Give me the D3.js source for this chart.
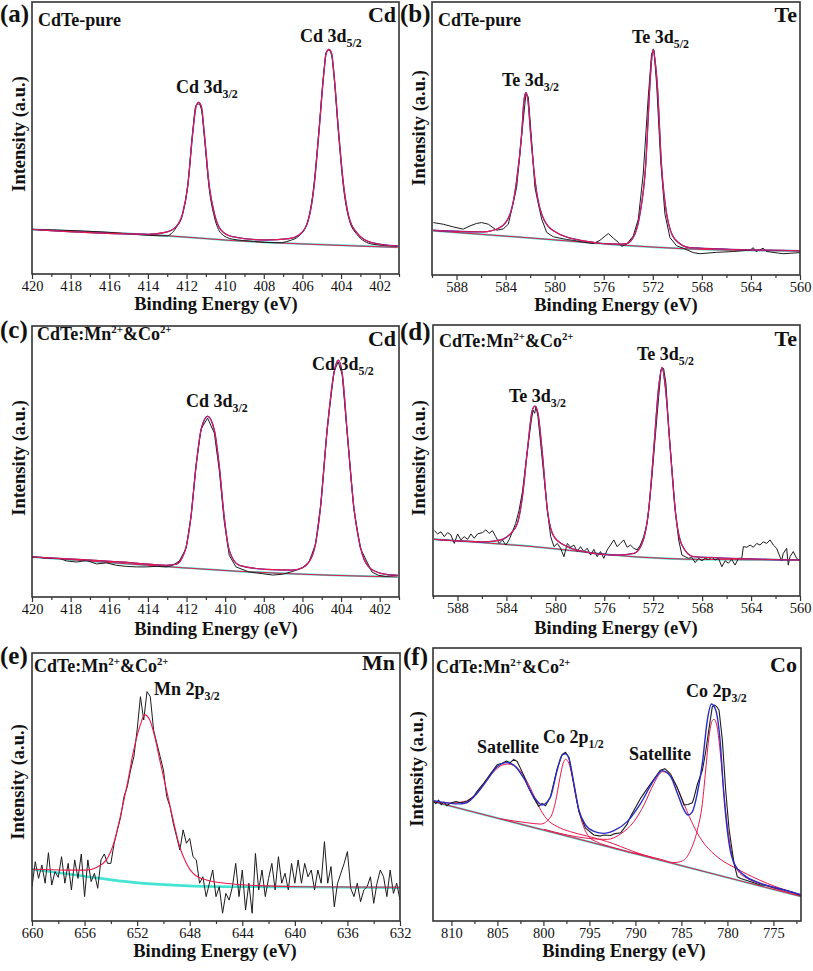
<!DOCTYPE html>
<html><head><meta charset="utf-8">
<script src="https://cdn.jsdelivr.net/npm/d3@7"></script>
<style>
body{margin:0;background:#fff}
svg{display:block}
text{font-family:"Liberation Serif","Times New Roman",Times,serif}
</style>
</head><body>
<svg id="chart" width="813" height="971"></svg>
<script>
// ---------------- tick labels ----------------
const cdTicks = [420,418,416,414,412,410,408,406,404,402];
const cdMinor = [419,417,415,413,411,409,407,405,403,401];
const teTicks = [588,584,580,576,572,568,564,560];
const teMinor = [590,586,582,578,574,570,566,562];
const mnTicks = [660,656,652,648,644,640,636,632];
const mnMinor = [658,654,650,646,642,638,634];
const coTicks = [810,805,800,795,790,785,780,775];
const coMinor = [807.5,802.5,797.5,792.5,787.5,782.5,777.5,772.5];

// ---------------- (a) Cd 3d, CdTe-pure  [binding energy eV, intensity a.u.] ----------------
const aBackground = [[420,16.4],[413.05,14.1],[409.62,12.3],[406.18,11.1],[401.07,9.8]];
const aFit = [[420,16.4],[413.97,14.6],[413.05,15.4],[412.54,17.4],[412.2,22.3],[411.94,32.1],[411.68,51.7],[411.51,61.5],[411.37,63.1],[411.23,61.5],[411.08,51.7],[410.82,32.1],[410.56,22.3],[410.22,16.2],[409.62,13.7],[407.9,12.5],[406.69,13.0],[406.18,14.3],[405.75,18.6],[405.4,32.1],[405.15,51.7],[404.89,73.8],[404.77,81.1],[404.63,82.6],[404.49,81.1],[404.37,73.8],[404.12,51.7],[403.86,32.1],[403.6,21.1],[403.17,15.0],[402.4,11.5],[401.07,10.3]];
const aRaw = [[420,16.4],[416,15.3],[413.97,14.2],[413.05,14.0],[412.54,17.0],[412.2,22.0],[411.94,32.5],[411.68,52.5],[411.51,62.0],[411.37,62.5],[411.23,60.5],[411.08,50.5],[410.82,31.0],[410.56,21.0],[410.22,15.0],[409.62,12.8],[408.5,12.0],[407.9,11.6],[407.2,11.5],[406.69,12.2],[406.18,14.0],[405.75,18.8],[405.4,33.0],[405.15,52.5],[404.89,74.5],[404.77,81.5],[404.63,82.3],[404.49,80.5],[404.37,73.0],[404.12,50.5],[403.86,31.0],[403.6,20.5],[403.17,14.5],[402.4,11.0],[401.07,10.2]];

// ---------------- (b) Te 3d, CdTe-pure ----------------
const bBackground = [[589.9,16.2],[581.74,13.5],[574.95,11.1],[568.16,9.4],[560,8.8]];
const bFit = [[589.9,16.4],[585.82,15.8],[584.46,17.4],[583.64,22.3],[583.1,34.6],[582.69,51.7],[582.5,64.0],[582.34,66.8],[582.18,64.0],[581.96,51.7],[581.6,34.6],[581.06,22.3],[580.1,16.2],[577.67,12.5],[574.95,11.3],[574.13,11.5],[573.46,15.0],[573.05,22.3],[572.59,39.5],[572.23,70.1],[572.1,78.7],[571.96,82.7],[571.82,78.7],[571.64,70.1],[571.28,39.5],[570.87,22.3],[570.2,13.1],[568.97,10.0],[560,8.9]];
const bRaw = [[589.89,19.2],[589.08,18.6],[588.26,17.6],[587.45,16.8],[586.9,18.0],[586.36,18.9],[585.95,19.2],[585.41,18.6],[584.73,16.4],[584.19,16.9],[583.78,18.6],[583.37,26.6],[583.1,32.1],[582.69,51.1],[582.34,66.4],[582.15,65.2],[581.88,49.3],[581.61,32.1],[581.33,26.0],[581.06,20.5],[580.65,15.6],[580.11,14.0],[579.57,13.5],[579.02,13.0],[578.48,12.7],[577.67,12.0],[576.85,11.5],[576.31,12.7],[575.9,14.2],[575.63,15.2],[575.22,13.5],[574.81,12.0],[574.54,10.5],[574.13,11.3],[573.59,14.3],[573.18,20.5],[572.78,37.0],[572.37,65.2],[572.1,81.1],[571.91,82.4],[571.69,70.1],[571.36,41.9],[571.01,22.3],[570.6,13.7],[570.06,10.7],[569.52,9.8],[568.7,8.2],[568.16,7.8],[566.8,8.3],[565.44,8.6],[564.08,9.1],[563.81,10.0],[563.59,8.6],[563.0,9.8],[562.72,8.6],[561.37,7.8],[560.0,8.2]];

// ---------------- (c) Cd 3d, CdTe:Mn2+&Co2+ ----------------
const cBackground = [[420,14.8],[414.77,12.1],[409.62,9.6],[404.46,8.0],[401.07,7.4]];
const cFit = [[420,14.8],[414.77,12.6],[413.05,11.7],[412.54,12.1],[412.28,13.8],[412.02,18.5],[411.77,29.6],[411.51,48.0],[411.25,61.6],[410.91,66.7],[410.56,61.6],[410.3,48.0],[410.05,29.6],[409.79,17.2],[409.27,11.7],[407.9,10.2],[406.52,9.9],[406.0,10.8],[405.66,12.9],[405.32,19.7],[405.06,33.3],[404.72,61.6],[404.37,82.5],[404.15,87.4],[403.94,82.5],[403.69,61.6],[403.34,33.3],[403.0,18.5],[402.57,11.1],[401.88,8.6],[401.07,8.0]];
const cRaw = [[420,14.8],[419.07,14.2],[418.55,14.2],[418.21,13.3],[417.69,12.9],[417.18,13.5],[416.66,12.2],[416.15,12.6],[415.63,11.7],[415.12,11.3],[414.6,11.1],[414.08,11.1],[413.57,11.3],[413.05,11.1],[412.71,11.7],[412.37,13.3],[412.02,18.0],[411.77,29.5],[411.51,48.5],[411.25,62.0],[410.91,66.0],[410.56,60.5],[410.3,46.5],[410.05,28.0],[409.79,15.4],[409.44,11.1],[408.75,9.2],[408.06,8.6],[407.54,8.1],[407.03,8.4],[406.52,9.4],[406.0,10.8],[405.66,12.9],[405.32,19.5],[405.06,33.5],[404.72,62.0],[404.37,83.0],[404.15,86.8],[403.94,82.0],[403.69,61.0],[403.34,32.5],[403.0,18.0],[402.4,9.2],[402.06,8.0],[401.71,7.6],[401.07,8.0]];

// ---------------- (d) Te 3d, CdTe:Mn2+&Co2+ ----------------
const dBackground = [[589.89,20.9],[581.74,18.2],[573.59,14.5],[568.16,13.5],[560,13.3]];
const dFit = [[589.89,20.9],[585.82,20.0],[584.46,20.7],[583.64,23.1],[583.1,26.8],[582.69,36.7],[582.28,53.9],[581.88,68.6],[581.66,70.1],[581.42,67.4],[581.06,52.6],[580.65,31.7],[580.11,21.9],[579.02,18.2],[577.67,16.4],[576.31,15.4],[574.95,15.1],[573.59,15.7],[572.91,19.4],[572.37,31.7],[571.96,53.9],[571.55,77.2],[571.28,84.4],[571.01,77.2],[570.6,53.9],[570.2,31.7],[569.65,18.8],[568.7,14.5],[560,13.3]];
const dRaw = [[589.89,24.1],[589.62,22.9],[589.35,23.7],[589.08,21.9],[588.80,23.4],[588.53,22.5],[588.26,19.4],[587.99,22.9],[587.72,20.7],[587.45,21.9],[587.17,20.9],[586.90,22.9],[586.63,21.3],[586.36,22.9],[585.95,23.4],[585.68,24.4],[585.41,23.1],[585.14,24.1],[584.87,21.9],[584.59,19.4],[584.32,20.7],[584.05,18.8],[583.78,20.7],[583.51,23.7],[583.24,26.8],[582.96,31.7],[582.69,38.5],[582.28,53.9],[581.96,64.9],[581.82,68.6],[581.69,67.4],[581.58,69.9],[581.42,66.2],[581.20,56.3],[580.93,44.0],[580.65,31.7],[580.38,21.9],[580.11,18.2],[579.84,19.4],[579.57,17.6],[579.30,14.5],[579.02,19.4],[578.75,18.0],[578.48,18.8],[578.21,16.4],[577.94,18.2],[577.67,16.4],[577.39,17.6],[577.12,15.1],[576.85,17.2],[576.58,14.5],[576.31,16.4],[576.04,13.9],[575.76,17.0],[575.49,18.8],[575.22,20.7],[574.95,18.2],[574.68,19.4],[574.41,20.7],[574.13,18.0],[573.86,18.8],[573.59,17.6],[573.32,17.0],[573.05,18.8],[572.78,21.9],[572.50,26.8],[572.37,31.7],[572.10,44.0],[571.83,58.8],[571.55,73.6],[571.36,83.4],[571.15,84.0],[570.96,78.5],[570.74,62.5],[570.46,46.5],[570.20,31.7],[569.92,20.7],[569.65,15.1],[569.38,14.5],[569.11,13.9],[568.84,14.3],[568.57,12.3],[568.29,13.9],[568.02,13.0],[567.75,13.9],[567.48,13.5],[567.21,14.3],[566.94,13.3],[566.66,13.9],[566.39,10.8],[566.12,13.0],[565.85,12.1],[565.58,13.5],[565.31,11.4],[565.03,13.9],[564.76,13.9],[564.63,18.2],[564.35,18.0],[564.08,18.8],[563.81,18.0],[563.54,19.4],[563.27,18.8],[563.00,20.0],[562.72,19.4],[562.45,20.7],[562.18,18.8],[561.91,17.6],[561.64,14.5],[561.50,13.0],[561.37,15.7],[561.09,17.6],[560.96,11.4],[560.82,14.5],[560.55,16.4],[560.28,13.9],[560.00,13.0]];

// ---------------- (e) Mn 2p3/2 ----------------
const eBackground = [[660,19.3],[656.12,16.8],[652.31,14.4],[648.5,13.2],[644.7,12.8],[639.62,12.7],[632,12.4]];
const eFit = [[660,19.3],[657.39,19.0],[655.86,19.0],[655.10,20.0],[654.34,22.8],[653.71,30.2],[653.20,40.8],[652.69,52.6],[652.31,62.6],[651.80,72.5],[651.42,76.9],[651.04,75.0],[650.66,68.8],[650.28,60.1],[649.77,48.9],[649.26,37.7],[648.76,27.7],[648.25,21.5],[647.74,17.8],[646.73,15.3],[644.70,13.8],[642.16,13.1],[639.62,12.8],[632,12.6]];
const eRaw = [[660,12.8],[659.75,22.1],[659.5,15.9],[659.25,20.9],[659,14.1],[658.75,25.5],[658.5,13.4],[658.25,18.4],[658,16.3],[657.75,24.0],[657.5,14.1],[657.25,21.5],[657,11.6],[656.75,22.8],[656.5,15.9],[656.25,25.0],[656,9.1],[655.75,22.8],[655.5,14.7],[655.25,17.8],[655,12.2],[654.75,22.8],[654.5,25.0],[654.25,21.5],[654,21.5],[653.75,29.0],[653.5,34.0],[653.25,38.9],[653,46.4],[652.75,50.1],[652.5,56.3],[652.25,61.3],[652,71.3],[651.75,83.7],[651.5,75.0],[651.25,85.6],[651,83.7],[650.75,71.3],[650.5,66.3],[650.25,61.3],[650,56.3],[649.75,46.4],[649.5,42.7],[649.25,36.4],[649,31.5],[648.75,26.5],[648.5,34.0],[648.25,29.0],[648,30.8],[647.75,24.0],[647.5,22.8],[647.25,14.1],[647,16.5],[646.75,9.1],[646.5,14.1],[646.25,19.0],[646,9.1],[645.75,12.8],[645.5,2.9],[645.25,10.3],[645,7.8],[644.75,12.8],[644.5,21.5],[644.25,9.1],[644,19.0],[643.75,4.1],[643.5,14.1],[643.25,2.9],[643,25.2],[642.75,11.6],[642.5,19.0],[642.25,9.1],[642,15.9],[641.75,21.5],[641.5,11.6],[641.25,24.0],[641,14.1],[640.75,17.8],[640.5,11.6],[640.25,21.5],[640,14.1],[639.75,22.8],[639.5,14.1],[639.25,21.5],[639,16.5],[638.75,19.0],[638.5,11.6],[638.25,19.0],[638,14.1],[637.75,29.6],[637.5,14.1],[637.25,20.3],[637,5.3],[636.75,14.1],[636.5,17.8],[636.25,21.5],[636,25.9],[635.75,12.2],[635.5,9.1],[635.25,14.1],[635,7.2],[634.75,11.6],[634.5,12.8],[634.25,16.5],[634,6.6],[633.75,14.1],[633.5,19.0],[633.25,16.5],[633,9.1],[632.75,19.0],[632.5,10.3],[632.25,14.1],[632,7.8]];

// ---------------- (f) Co 2p ----------------
const fBaseline = [[811.92,43.7],[771.92,8.9]];
const fEnvelope = [[811.92,44.1],[810.11,43.1],[809.02,42.9],[808.30,43.4],[807.21,46.8],[806.12,51.6],[805.03,56.5],[804.02,58.0],[803.22,57.1],[802.13,52.3],[801.04,45.5],[800.13,42.5],[799.23,45.5],[798.50,55.3],[797.96,60.8],[797.60,61.2],[797.23,59.6],[796.69,50.4],[796.14,40.7],[795.42,35.2],[794.51,32.8],[793.42,32.1],[792.34,33.1],[790.89,36.4],[789.43,43.1],[787.98,51.6],[787.08,55.1],[786.17,52.9],[785.44,46.8],[784.72,40.7],[784.28,38.8],[783.81,40.0],[783.27,46.8],[782.72,57.8],[782.18,73.6],[781.74,79.5],[781.27,77.3],[780.80,66.3],[780.37,45.5],[779.82,28.4],[779.28,21.1],[778.19,16.8],[776.38,13.8],[773.84,11.4],[771.92,9.5]];
const fRaw = [[811.92,43.7],[811.7,43.0],[811.4,44.3],[811.1,42.6],[810.8,43.6],[810.5,42.2],[810.11,43.2],[809.5,43.8],[809.02,43.3],[808.30,43.8],[807.57,45.6],[807.21,47.5],[806.48,50.5],[806.12,52.2],[805.76,53.9],[805.03,57.2],[804.49,57.8],[804.02,58.6],[803.6,58.0],[803.22,59.2],[802.85,58.4],[802.5,56.0],[802.13,53.3],[801.77,50.0],[801.04,45.0],[800.5,42.0],[800.13,43.1],[799.77,42.2],[799.23,45.5],[798.50,55.8],[797.96,61.0],[797.60,61.8],[797.23,60.0],[796.69,50.0],[796.14,40.0],[795.42,34.0],[794.51,31.5],[793.79,31.1],[793.42,31.5],[792.70,31.3],[792.34,31.9],[791.61,32.3],[790.89,35.5],[790.5,38.5],[789.43,45.0],[788.5,49.5],[787.98,52.0],[787.3,55.2],[786.8,55.8],[786.53,55.0],[786.17,53.8],[785.44,48.8],[784.72,42.5],[784.28,42.7],[783.81,43.3],[783.63,45.2],[783.27,50.0],[782.72,55.2],[782.36,62.0],[782.0,70.5],[781.64,78.5],[781.38,79.1],[781.16,78.5],[780.91,77.3],[780.55,66.3],[780.19,48.1],[779.82,33.6],[779.28,21.1],[778.92,16.2],[778.55,15.6],[777.46,14.4],[776.38,13.2],[775.65,13.0],[774.93,12.2],[773.84,11.4],[772.8,10.4],[771.92,9.3]];
const fSatelliteA = [[811.92,43.6],[810.11,43.2],[808.66,43.7],[807.57,45.8],[806.48,50.2],[805.39,54.7],[804.49,57.1],[803.87,57.5],[803.22,57.0],[802.31,54.1],[801.40,48.6],[800.50,41.9],[799.59,37.2],[798.50,34.6],[797.05,32.7],[795.24,31.1],[793.06,29.1],[790.16,25.4],[787.98,23.0]];
const fCo2p12 = [[804.67,37.4],[801.77,36.0],[800.32,35.5],[799.23,38.0],[798.68,43.7],[798.21,52.3],[797.85,57.8],[797.60,59.2],[797.23,57.8],[796.87,52.9],[796.40,44.3],[795.78,36.0],[795.06,30.9],[794.15,28.9],[792.70,27.2],[790.16,24.8]];
const fSatelliteB = [[799.95,33.6],[797.41,31.5],[795.24,30.3],[793.06,29.9],[791.61,31.9],[790.16,36.4],[789.07,42.5],[787.98,50.4],[787.04,54.7],[786.17,53.1],[785.26,47.4],[784.36,40.0],[783.45,33.3],[782.54,28.4],[781.45,24.5],[780.37,21.7],[779.28,19.7],[777.83,17.1],[776.38,14.8],[774.93,12.8],[773.47,11.1],[771.92,9.5]];
const fCo2p32 = [[790.16,25.0],[787.26,22.6],[785.81,21.4],[784.90,22.0],[783.99,26.0],[783.27,33.3],[782.72,43.1],[782.36,55.3],[782.00,67.5],[781.64,73.4],[781.45,73.9],[781.16,71.8],[780.80,62.6],[780.44,49.2],[780.00,34.6],[779.46,23.6],[778.92,18.7],[777.83,15.6],[776.38,13.6],[774.93,12.0],[773.47,10.5],[771.92,9.2]];

// ---------------- styles ----------------
const C = {black:"#1c1c1c", blue:"#2b2bc4", red:"#e8194c", cyan:"#45e3d2", frame:"#333"};

const svg = d3.select("#chart");
const defs = svg.append("defs");

function rich(parent, x, y, parts, size, anchor){
  const t = parent.append("text").attr("x",x).attr("y",y)
    .attr("font-size",size).attr("font-weight","bold").attr("fill","#111")
    .attr("text-anchor",anchor||"start");
  let shift = 0;
  parts.forEach(p=>{
    const s = t.append("tspan").text(p.t);
    let target = 0;
    if(p.sub){ s.attr("font-size", size*0.66); target = size*0.28; }
    else if(p.sup){ s.attr("font-size", size*0.6); target = -size*0.38; }
    s.attr("dy", target-shift); shift = target;
  });
  return t;
}

const panels = [
 {id:"a", l:32, r:399, t:2, b:274, dom:[420,401], ticks:cdTicks, minor:cdMinor,
  layers:[{d:aBackground,c:C.cyan,w:2},{d:aBackground,c:C.red,w:1},{d:aRaw,c:C.black,w:1},{d:aFit,c:C.blue,w:1.3},{d:aFit,c:C.red,w:1.1}],
  letter:["(a)",0,22], sample:[[{t:"CdTe-pure"}],38,26], elem:["Cd",396,22],
  peaks:[[[{t:"Cd 3d"},{t:"5/2",sub:1}],300,42],[[{t:"Cd 3d"},{t:"3/2",sub:1}],176,93]],
  xt:[216,310], yt:[25,134]},
 {id:"b", l:432, r:800, t:2, b:275, dom:[590,560], ticks:teTicks, minor:teMinor,
  layers:[{d:bBackground,c:C.cyan,w:2},{d:bBackground,c:C.red,w:1},{d:bRaw,c:C.black,w:1,lin:1},{d:bFit,c:C.blue,w:1.3},{d:bFit,c:C.red,w:1.1}],
  letter:["(b)",400,22], sample:[[{t:"CdTe-pure"}],438,26], elem:["Te",797,22],
  peaks:[[[{t:"Te 3d"},{t:"5/2",sub:1}],632,43],[[{t:"Te 3d"},{t:"3/2",sub:1}],502,86]],
  xt:[616,311], yt:[425,128]},
 {id:"c", l:32, r:399, t:326, b:597, dom:[420,401], ticks:cdTicks, minor:cdMinor,
  layers:[{d:cBackground,c:C.cyan,w:2},{d:cBackground,c:C.red,w:1},{d:cRaw,c:C.black,w:1,lin:1},{d:cFit,c:C.blue,w:1.3},{d:cFit,c:C.red,w:1.1}],
  letter:["(c)",0,338], sample:[[{t:"CdTe:Mn"},{t:"2+",sup:1},{t:"&Co"},{t:"2+",sup:1}],37,340], elem:["Cd",396,346],
  peaks:[[[{t:"Cd 3d"},{t:"5/2",sub:1}],312,370],[[{t:"Cd 3d"},{t:"3/2",sub:1}],186,407]],
  xt:[216,635], yt:[25,458]},
 {id:"d", l:433, r:800, t:325, b:596, dom:[590,560], ticks:teTicks, minor:teMinor,
  layers:[{d:dBackground,c:C.cyan,w:2},{d:dBackground,c:C.red,w:1},{d:dRaw,c:C.black,w:1,lin:1},{d:dFit,c:C.blue,w:1.3},{d:dFit,c:C.red,w:1.1}],
  letter:["(d)",400,340], sample:[[{t:"CdTe:Mn"},{t:"2+",sup:1},{t:"&Co"},{t:"2+",sup:1}],439,347], elem:["Te",797,346],
  peaks:[[[{t:"Te 3d"},{t:"5/2",sub:1}],637,360],[[{t:"Te 3d"},{t:"3/2",sub:1}],509,402]],
  xt:[616,634], yt:[425,458]},
 {id:"e", l:32, r:400, t:653, b:921, dom:[660,632], ticks:mnTicks, minor:mnMinor,
  layers:[{d:eBackground,c:C.cyan,w:2.6},{d:eRaw,c:C.black,w:1,lin:1},{d:eFit,c:C.red,w:1.1}],
  letter:["(e)",0,664], sample:[[{t:"CdTe:Mn"},{t:"2+",sup:1},{t:"&Co"},{t:"2+",sup:1}],34,672], elem:["Mn",395,670],
  peaks:[[[{t:"Mn 2p"},{t:"3/2",sub:1}],154,695]],
  xt:[215,957], yt:[24,782]},
 {id:"f", l:433, r:801, t:648, b:921, dom:[812,772], ticks:coTicks, minor:coMinor,
  layers:[{d:fBaseline,c:C.cyan,w:2},{d:fBaseline,c:C.red,w:1},{d:fSatelliteA,c:C.red,w:1},{d:fCo2p12,c:C.red,w:1},{d:fSatelliteB,c:C.red,w:1},{d:fCo2p32,c:C.red,w:1},{d:fRaw,c:C.black,w:1.1,lin:1},{d:fEnvelope,c:C.blue,w:1.4}],
  letter:["(f)",403,665], sample:[[{t:"CdTe:Mn"},{t:"2+",sup:1},{t:"&Co"},{t:"2+",sup:1}],436,673], elem:["Co",797,672],
  peaks:[[[{t:"Co 2p"},{t:"3/2",sub:1}],686,697],[[{t:"Satellite"}],477,753],[[{t:"Co 2p"},{t:"1/2",sub:1}],543,743],[[{t:"Satellite"}],629,760]],
  xt:[624,957], yt:[423,769]}
];

panels.forEach(p=>{
  const x = d3.scaleLinear().domain(p.dom).range([p.l,p.r]);
  const y = d3.scaleLinear().domain([0,100]).range([p.b,p.t]);
  const g = svg.append("g").attr("class","panel-"+p.id);
  defs.append("clipPath").attr("id","clip-"+p.id).append("rect")
    .attr("x",p.l).attr("y",p.t).attr("width",p.r-p.l).attr("height",p.b-p.t);
  const plot = g.append("g").attr("clip-path","url(#clip-"+p.id+")");
  const smooth = d3.line().x(d=>x(d[0])).y(d=>y(d[1])).curve(d3.curveMonotoneX);
  const jag = d3.line().x(d=>x(d[0])).y(d=>y(d[1]));
  p.layers.forEach(L=>{
    plot.append("path").datum(L.d).attr("d", L.lin?jag:smooth)
      .attr("fill","none").attr("stroke",L.c).attr("stroke-width",L.w)
      .attr("stroke-linejoin","round");
  });
  // minor ticks
  const minorAx = d3.axisBottom(x).tickValues(p.minor).tickSize(3).tickSizeOuter(0).tickFormat("");
  const gm = g.append("g").attr("transform",`translate(0,${p.b})`).call(minorAx);
  gm.select(".domain").remove();
  gm.selectAll("line").attr("stroke",C.frame).attr("stroke-width",1.2);
  // major ticks
  const ax = d3.axisBottom(x).tickValues(p.ticks).tickSize(5).tickSizeOuter(0).tickPadding(2).tickFormat(d3.format("d"));
  const ga = g.append("g").attr("transform",`translate(0,${p.b})`).call(ax);
  ga.select(".domain").remove();
  ga.selectAll("line").attr("stroke",C.frame).attr("stroke-width",1.2);
  ga.selectAll("text").attr("font-size",14.5).attr("fill","#111")
    .attr("font-family",'"Liberation Serif","Times New Roman",serif');
  // frame
  g.append("rect").attr("x",p.l).attr("y",p.t).attr("width",p.r-p.l).attr("height",p.b-p.t)
    .attr("fill","none").attr("stroke",C.frame).attr("stroke-width",1.6);
  // titles
  g.append("text").attr("x",p.xt[0]).attr("y",p.xt[1]).attr("text-anchor","middle")
    .attr("font-size",18.5).attr("font-weight","bold").attr("fill","#111").text("Binding Energy (eV)");
  g.append("text").attr("transform",`translate(${p.yt[0]},${p.yt[1]}) rotate(-90)`).attr("text-anchor","middle")
    .attr("font-size",18.5).attr("font-weight","bold").attr("fill","#111").text("Intensity (a.u.)");
  // labels
  rich(g, p.letter[1], p.letter[2], [{t:p.letter[0]}], 25);
  rich(g, p.sample[1], p.sample[2], p.sample[0], 18);
  rich(g, p.elem[1], p.elem[2], [{t:p.elem[0]}], 22, "end");
  p.peaks.forEach(pk=> rich(g, pk[1], pk[2], pk[0], 18));
});
</script>
</body></html>
